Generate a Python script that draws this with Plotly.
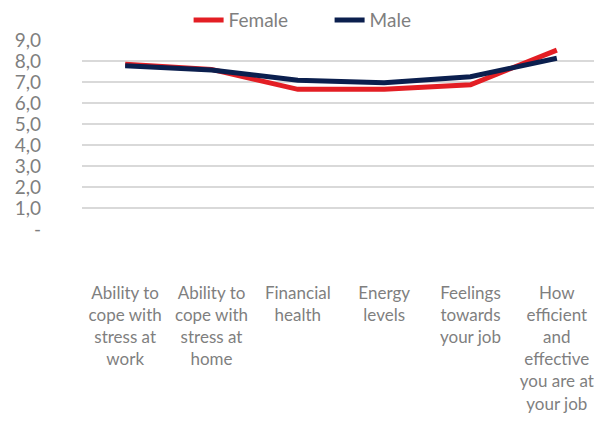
import plotly.graph_objects as go

categories = [
    "Ability to<br>cope with<br>stress at<br>work",
    "Ability to<br>cope with<br>stress at<br>home",
    "Financial<br>health",
    "Energy<br>levels",
    "Feelings<br>towards<br>your job",
    "How<br>efficient<br>and<br>effective<br>you are at<br>your job",
]
female = [7.85, 7.6, 6.65, 6.65, 6.87, 8.52]
male = [7.77, 7.57, 7.08, 6.97, 7.25, 8.13]
y_tickvals = [0, 1, 2, 3, 4, 5, 6, 7, 8, 9]
y_ticktext = ["-", "1,0", "2,0", "3,0", "4,0", "5,0", "6,0", "7,0", "8,0", "9,0"]

FONT = "Lato, 'Open Sans', sans-serif"
GRAY = "#7f7f7f"

fig = go.Figure()
fig.add_trace(go.Scatter(x=categories, y=female, mode="lines", name="Female",
                         line=dict(color="#E31E24", width=5)))
fig.add_trace(go.Scatter(x=categories, y=male, mode="lines", name="Male",
                         line=dict(color="#0B1F4E", width=5)))

fig.update_layout(
    width=602, height=427,
    margin=dict(l=74, r=10, t=32, b=206, autoexpand=False),
    paper_bgcolor="white", plot_bgcolor="white",
    font=dict(family=FONT, size=18, color=GRAY),
    showlegend=True,
    legend=dict(orientation="h", xref="container", yref="paper",
                x=0.30, xanchor="left", y=1.105, yanchor="middle",
                entrywidth=96, entrywidthmode="pixels",
                font=dict(family=FONT, size=19, color=GRAY),
                itemwidth=30, tracegroupgap=0, bgcolor="rgba(0,0,0,0)"),
    xaxis=dict(type="category", range=[-0.5, 5.5], showgrid=False,
               showline=False, zeroline=False, ticks="",
               tickangle=0, ticklabelstandoff=52,
               tickfont=dict(family=FONT, size=17, color=GRAY)),
    yaxis=dict(range=[0, 9], tickvals=y_tickvals, ticktext=y_ticktext,
               showgrid=True, gridcolor="#D9D9D9", gridwidth=1.5,
               zeroline=False, showline=False, ticks="",
               ticklabelstandoff=40,
               tickfont=dict(family=FONT, size=19, color=GRAY)),
)

fig.write_html("out.html")
